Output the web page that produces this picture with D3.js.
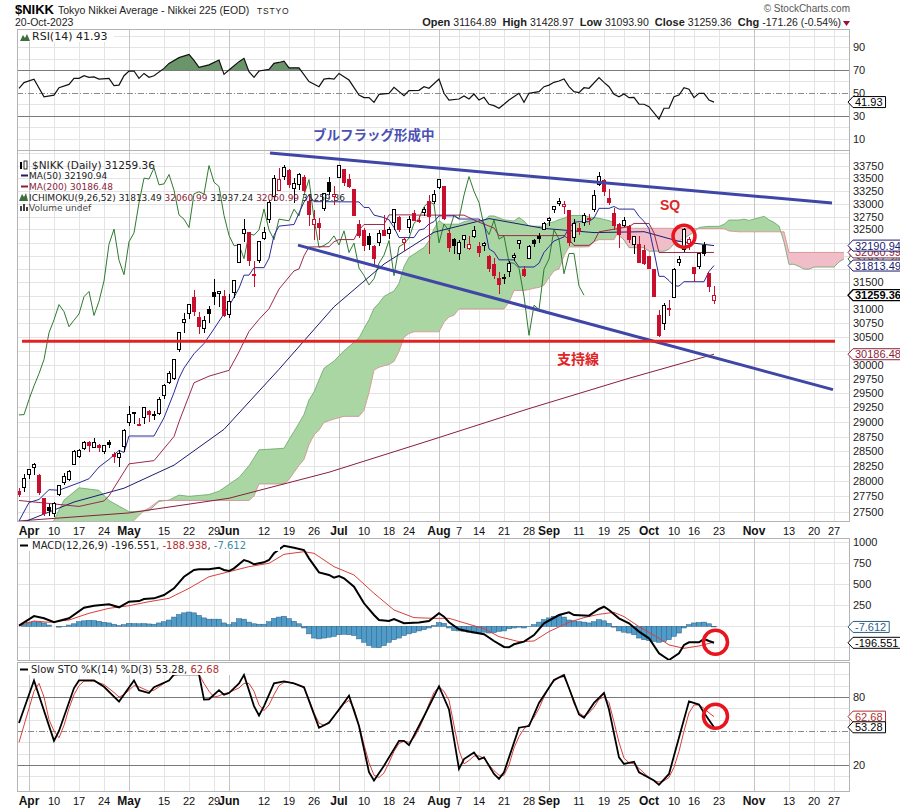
<!DOCTYPE html>
<html>
<head>
<meta charset="utf-8">
<title>$NIKK Daily</title>
<style>
  body { margin: 0; background: #fff; }
  text { font-family: Arial, 'Liberation Sans', sans-serif; fill: #222; }
  .leg { font-family: 'DejaVu Sans', Verdana, sans-serif; }
  .jp { font-family: 'Noto Sans CJK JP', sans-serif; font-weight: bold; }
</style>
</head>
<body>
<script src="https://cdn.jsdelivr.net/npm/d3@7"></script>
<script>

// trading-day index: 0 = 3 Apr 2023, first candle (30 Mar) is -2
var firstIdx = -2;
var prevClose = 27883;

var opens = [27827,27899,
  28115,28234,28102,27719,27572,27465,27781,27972,28033,28285,28417,28547,28648,28560,28594,28491,28650,28452,28403,28589,
  28989,29146,28939,29070,29178,29103,29154,29459,29693,29748,30279,30763,30915,31210,30858,30648,30996,31303,31290,31241,
  30899,31302,31864,32427,32443,31651,31910,32325,32683,33140,33265,33531,33658,33301,33368,33524,33040,32604,32624,32909,33420,33137,
  33517,33668,33472,33286,32599,32480,32370,32182,32252,32488,32419,32640,32728,32258,32533,32805,32670,32819,33041,33043,
  33311,33329,32427,32308,32050,32314,32144,32372,32169,32188,31986,31836,31579,31598,31708,31964,32227,31748,31947,32284,32361,32491,
  32667,32885,32999,32935,32859,32337,32510,32630,32688,32878,33377,33457,33097,32817,32603,32584,32555,32214,32209,32099,
  31981,31735,30892,30747,31017,31212,31877,32117,32231,31770,31794,32201,31663,31164.89];
var highs = [27895,28124,
  28203,28296,28124,27731,27626,27661,27932,28134,28195,28515,28540,28675,28673,28720,28620,28613,28695,28493,28523,28879,
  29278,29171,29069,29263,29199,29187,29426,29660,29895,30093,30594,30924,31086,31352,30942,30871,31058,31560,31328,31352,
  31281,31526,32217,32708,32444,31900,32265,32546,33062,33571,33708,33772,33680,33505,33603,33560,33178,32877,32714,33207,33527,33356,
  33762,33668,33578,33286,32687,32532,32440,32202,32481,32780,32541,32896,32757,32362,32757,32869,32753,32944,33172,33264,
  33488,33336,32497,32343,32299,32395,32384,32567,32253,32266,32004,31957,31698,31653,31897,32048,32297,31798,32193,32326,32439,32648,
  32745,32960,33116,33045,32875,32693,32631,32810,32802,33260,33634,33486,33281,32919,32631,32735,32577,32381,32370,32202,
  32000,31739,30980,31115,31167,31760,31987,32533,32363,31794,32046,32260,31681,31428.97];
var lows = [27736,27827,
  28038,28112,27766,27427,27425,27409,27753,27944,28010,28285,28390,28528,28489,28552,28487,28461,28556,28311,28241,28485,
  28935,28965,28925,28957,29005,29037,29118,29403,29652,29726,30220,30571,30825,30882,30558,30568,30758,31083,31045,30852,
  30839,31203,31863,32265,31814,31420,31859,32290,32621,33056,33257,33470,33306,33012,33275,33227,32575,32306,32305,32860,33172,32971,
  33517,33353,33298,32773,32327,32089,32099,31791,32192,32391,32318,32483,32453,32080,32436,32664,32619,32760,32037,32996,
  33292,32684,32071,32040,31914,32146,32115,32342,31971,32092,31687,31569,31275,31476,31601,31891,32129,31598,31943,32160,32240,32481,
  32561,32826,32963,32794,32184,32255,32393,32562,32585,32832,33341,33157,32980,32497,32154,32552,32246,32038,31872,31828,
  31753,31236,30487,30621,30870,31200,31806,32061,32116,31512,31750,31995,31312,31093.90];
var closes = [27782,28041,
  28188,28287,27813,27472,27518,27633,27923,28082,28156,28493,28514,28658,28606,28657,28564,28593,28620,28416,28457,28856,
  29123,29157,28949,29242,29122,29126,29388,29626,29842,30093,30573,30808,31086,30957,30682,30801,30916,31233,31328,30887,
  31148,31524,32217,32506,31913,31641,32265,32434,33018,33502,33485,33706,33370,33388,33575,33265,32781,32698,32538,33193,33234,33189,
  33753,33422,33338,32773,32388,32189,32203,31943,32419,32391,32493,32896,32490,32304,32700,32682,32668,32891,32759,33172,
  33476,32707,32159,32193,32254,32377,32204,32473,32059,32238,31766,31626,31450,31566,31856,32010,32287,31624,32169,32227,32333,32619,
  32710,32939,33036,32991,32241,32606,32467,32776,32707,33168,33533,33242,33023,32571,32402,32678,32315,32371,31872,31857,
  31759,31237,30526,31075,30994,31746,31936,32494,32315,31659,32040,32042,31430,31259.36];

// overlays, [index, value]
var ma50 = [[-2,27300],[9,27658],[19,27885],[29,28268],[39,28874],[50,29918],[61,31046],[71,31841],[81,32447],[92,32710],[103,32520],[113,32440],[123,32457],[130,32272],[137,32190.94]];
var ma200 = [[-2,27350],[20,27480],[40,27720],[60,28150],[80,28680],[100,29230],[120,29760],[137,30186.48]];
var convLine = [[-2,27350],[0,27650],[2,27700],[4,27860],[6,27852],[10,27975],[12,28042],[14,28237],[16,28365],[18,28516],[19,28481],[20,28760],[25,28760],[27,29073],[29,29509],[30,29760],[31,29941],[33,30195],[35,30378],[37,30643],[40,31059],[42,31388],[43,31633],[44,31633],[45,31774],[47,31774],[48,31951],[49,32387],[50,32564],[53,32596],[54,32816],[55,33031],[56,33174],[57,33039],[66,33034],[67,32926],[68,32926],[69,32777],[71,32730],[72,32685],[73,32539],[74,32344],[77,32344],[78,32488],[79,32512],[80,32605],[81,32651],[82,32763],[85,32763],[86,32701],[90,32701],[91,32625],[92,32127],[93,32068],[94,31921],[97,31921],[98,31786],[101,31786],[102,31857],[103,32062],[104,32171],[105,32279],[107,32357],[108,32530],[109,32638],[110,32650],[112,32650],[113,32722],[114,32909],[116,32909],[117,32945],[118,32894],[121,32894],[122,32753],[123,32657],[124,32517],[125,32078],[126,31611],[127,31611],[128,31532],[129,31434],[130,31429],[131,31510],[135,31510],[136,31702],[137,31813.49]];
var baseLine = [[-2,27683],[10,27586],[15,27676],[16,27760],[20,28290],[25,28344],[29,28751],[30,29002],[33,29681],[36,29797],[40,29900],[42,30229],[44,30597],[46,30817],[48,31010],[50,31373],[53,31712],[54,31749],[55,31996],[56,32165],[60,32170],[61,32265],[62,32306],[65,32306],[66,32488],[67,32596],[71,32596],[72,32782],[76,32782],[77,32777],[87,32777],[88,32730],[89,32685],[90,32640],[93,32529],[94,32382],[107,32382],[108,32306],[109,32196],[112,32196],[113,32268],[114,32455],[120,32555],[121,32616],[124,32616],[125,32435],[126,32060],[137,32060.99]];
// leading spans, plotted 26 days ahead
var spanIdx = [-2,4,7,10,14,16,20,23,24,26,28,30,32,36,38,40,42,44,45,46,51,52,53,54,55,56,57,58,59,61,63,66,67,68,69,70,71,72,73,74,75,76,77,79,80,81,82,83,84,85,86,87,88,91,92,93,95,96,97,98,99,100,101,102,103,104,105,106,107,108,111,112,113,114,115,116,117,118,119,120,123,124,127,128,129,130,131,133,134,136,138,139,140,142,143,144,146,147,148,149,150,151,152,153,154,155,156,157,161,162,163];
var spanA = [27150,27200,27690,27892,27850,27683,27500,27510,27517,27667,27690,27772,27751,27781,27836,27949,28063,28258,28390,28525,28552,28700,28837,28980,29130,29381,29520,29730,29938,30064,30247,30480,30650,30809,31017,31115,31237,31290,31337,31481,31794,31969,32030,32154,32283,32514,32670,32602,32602,32602,32603,32650,32670,32670,32761,32761,32687,32675,32663,32734,32661,32563,32563,32562,32561,32633,32645,32691,32714,32770,32770,32739,32730,32716,32693,32671,32632,32384,32298,32151,32151,32084,32084,32120,32222,32276,32330,32450,32540,32560,32560,32600,32682,32682,32700,32675,32725,32755,32685,32637,32567,32257,31836,31836,31796,31747,31745,31785,31785,31881,31937.24];
var spanB = [26880,27050,27120,27197,27210,27217,27280,27517,27560,27683,27683,27683,27683,27683,27683,27683,27683,27683,27756,27955,27955,28029,28146,28264,28363,28613,28778,28859,28992,29050,29096,29096,29200,29508,29904,29954,29980,30004,30058,30235,30490,30558,30590,30590,30590,30590,30590,30762,30858,30891,31006,31006,31006,31006,31006,31006,31006,31128,31348,31348,31348,31364,31388,31404,31445,31587,31712,31749,31996,32165,32165,32170,32265,32305,32305,32305,32305,32487,32596,32523,32523,32523,32523,32523,32518,32518,32518,32518,32518,32518,32518,32518,32471,32455,32455,32455,32455,32455,32455,32455,32455,32455,32060,32060,32060,32060,32060,32060,32060,32060,32060.99];

var rsi = [[-2,54],[-1,59],[1,62],[3,46.6],[5,48],[6,54.5],[8,57.4],[9,62.7],[10,62.7],[11,65],[12,63.6],[13,64],[14,62],[16,62.7],[17,56.3],[18,56.8],[19,65],[20,69.1],[21,69.1],[22,62.7],[23,67],[24,63.6],[25,65],[27,71.4],[28,75.8],[30,80.8],[32,83.7],[33,78.5],[34,72.4],[36,74.5],[38,78.7],[39,66.2],[40,70],[42,77.3],[43,80.2],[44,68.5],[45,63.6],[46,69.1],[48,70.5],[49,75.8],[50,76.6],[51,77.7],[52,71.9],[54,71.9],[56,59.8],[58,55.4],[59,62],[60,62.7],[61,62],[62,67],[64,61.2],[66,48.1],[67,45.8],[68,45.8],[69,41.7],[70,48.7],[72,49.6],[73,54.8],[75,47.5],[76,51.9],[78,52.2],[79,55.4],[80,54],[82,62.1],[83,49.6],[84,43.7],[86,44.6],[87,47.2],[88,44.6],[89,49],[90,43.7],[91,46.1],[92,40],[93,38.8],[94,36.5],[95,40],[96,43.7],[98,49.6],[99,41.7],[100,49.6],[102,51.1],[103,55.4],[104,56.8],[105,59.2],[106,60.4],[107,62.2],[108,55.4],[109,51.1],[110,50.2],[111,54.5],[112,54],[114,63.3],[115,59.2],[116,55.4],[117,48.7],[118,46.6],[119,49],[120,45.8],[121,46.1],[122,40.2],[123,40],[124,37.9],[126,27.1],[127,36.5],[128,36.5],[129,46.6],[130,48.1],[131,54.5],[132,53.2],[133,45.8],[134,49.6],[135,49.6],[136,43.7],[137,41.93]];

var macd = [[-2,7],[1,122],[3,95],[5,48],[8,95],[11,221],[13,245],[16,262],[18,226],[20,293],[22,300],[23,325],[25,333],[27,372],[29,452],[31,590],[33,670],[34,678],[36,678],[38,698],[39,670],[40,658],[41,690],[43,789],[44,770],[45,738],[47,762],[48,789],[49,869],[51,959],[53,935],[55,908],[56,809],[58,642],[60,611],[61,579],[62,599],[63,571],[65,471],[67,274],[69,135],[70,75],[72,63],[73,87],[75,36],[78,44],[80,63],[82,155],[83,115],[84,48],[86,-36],[88,-63],[91,-95],[93,-175],[95,-246],[96,-250],[97,-214],[99,-183],[101,-104],[103,36],[106,134],[108,166],[109,134],[112,127],[114,206],[115,233],[116,194],[118,95],[120,36],[122,-63],[124,-143],[126,-321],[128,-401],[130,-321],[131,-222],[132,-190],[134,-190],[135,-151],[136,-175],[137,-196.551]];
var signal = [[-2,7],[1,63],[4,48],[8,75],[12,155],[16,214],[20,245],[24,293],[28,333],[32,452],[36,590],[40,650],[44,710],[48,750],[51,857],[55,888],[57,869],[61,710],[65,611],[69,393],[73,194],[77,103],[81,95],[84,95],[88,24],[91,-28],[94,-123],[98,-183],[101,-175],[104,-63],[108,48],[111,103],[114,143],[117,166],[119,115],[122,-4],[126,-143],[128,-222],[131,-262],[134,-234],[137,-188.938]];
var hist = [0,20,45,55,50,40,15,0,-10,-5,15,30,55,65,70,68,60,48,40,25,10,20,35,32,30,32,28,25,40,55,75,110,140,160,170,160,130,100,85,85,85,40,20,45,90,85,50,30,25,25,55,95,110,120,90,60,30,-20,-90,-140,-150,-140,-130,-120,-100,-95,-100,-110,-150,-190,-230,-250,-255,-230,-190,-160,-140,-110,-90,-75,-55,-40,-20,10,45,35,-20,-50,-55,-60,-70,-80,-80,-70,-80,-75,-60,-55,-30,-20,-10,-20,-5,20,50,80,100,120,130,110,75,65,55,50,40,55,80,65,35,-10,-55,-70,-80,-100,-140,-160,-170,-180,-190,-180,-160,-120,-80,-20,20,40,45,50,30,-7.612];

var stoK = [[-2,57],[1,94.6],[5,41.3],[6,50],[9,87.9],[10,94.6],[13,94.6],[15,89],[18,76],[21,94.6],[22,86],[24,83.5],[25,88.7],[28,94.6],[29,100],[34,100],[35,77.7],[36,78],[38,86],[39,82],[40,83.5],[42,92],[43,99.5],[45,72],[46,63.7],[47,72],[49,92],[51,93.7],[53,92],[55,88.7],[58,52.9],[60,57.3],[62,69],[64,81.2],[66,54.4],[68,13.6],[69,6.3],[71,19.4],[74,41.3],[75,41.3],[76,37.5],[79,63],[82,89.3],[84,69],[86,16.5],[87,25.2],[89,31],[90,25],[91,26.7],[93,12.1],[94,7.8],[95,13.6],[98,52.9],[100,54.4],[102,74.8],[105,95],[107,99.5],[110,64.6],[111,61.7],[113,74.8],[115,83.5],[116,69],[118,26.7],[119,20.9],[121,22.9],[122,13.6],[125,6.3],[126,2.5],[128,12.1],[130,44.2],[132,76.2],[134,73.3],[135,66],[137,53.28]];
var stoD = [[-2,40],[0,70],[1,85],[2,92],[3,80],[4,60],[5,50],[6,44],[7,55],[8,70],[9,82],[10,90],[11,94],[13,94],[15,91],[17,84],[18,80],[19,82],[20,86],[21,90],[22,89],[23,87],[24,85],[25,86],[26,89],[27,92],[28,95],[29,99],[30,100],[34,100],[35,92],[36,85],[37,80],[38,81],[39,83],[40,84],[41,86],[42,88],[43,92],[44,92],[45,85],[46,73],[47,68],[48,73],[49,82],[50,90],[51,93],[52,93],[53,92],[54,90],[55,88],[56,78],[57,66],[58,57],[59,55],[60,58],[61,63],[62,68],[63,74],[64,77],[65,70],[66,55],[67,38],[68,22],[69,11],[70,9],[71,13],[72,22],[73,32],[74,39],[75,41],[76,40],[77,44],[78,52],[79,62],[80,74],[81,84],[82,89],[83,85],[84,77],[85,55],[86,33],[87,21],[88,24],[89,28],[90,28],[91,26],[92,20],[93,15],[94,11],[95,11],[96,20],[97,35],[98,45],[99,52],[100,56],[101,62],[102,70],[103,80],[104,88],[105,94],[106,97],[107,98],[108,88],[109,74],[110,66],[111,63],[112,66],[113,71],[114,78],[115,80],[116,75],[117,58],[118,40],[119,26],[120,22],[121,21],[122,17],[123,13],[124,9],[125,6],[126,5],[127,6],[128,9],[129,18],[130,32],[131,50],[132,66],[133,73],[134,73],[135,70],[136,66],[137,62.68]];

// x axis
var tickIdx = [0,5,10,15,20,27,32,37,40,47,52,57,62,67,72,76,82,86,90,95,100,104,110,115,119,124,129,133,138,145,152,157,161];
var tickText = ['Apr','10','17','24','May','15','22','29','Jun','12','19','26','Jul','10','18','24','Aug','7','14','21','28','Sep','11','19','25','Oct','10','16','23','Nov','13','20','27'];
var monthText = ['Apr','May','Jun','Jul','Aug','Sep','Oct','Nov'];

// hand-drawn annotations, in data coordinates
var upperTrend = [[48.2,34004],[160.6,33012]];
var lowerTrend = [[53.8,32200],[160.8,29560]];
var supportLine = [[-1.4,30420],[161.2,30420]];

var width = 900, height = 811;
var left = 17, right = 850;
var red = '#c8102e';

var svg = d3.select('body').append('svg')
  .attr('width', width)
  .attr('height', height);

var x = d3.scaleLinear().domain([-2.4, 164.2]).range([left, right]);

var panels = {
  rsi: {top: 29, bottom: 150},
  main: {top: 150, bottom: 521},
  macd: {top: 538, bottom: 660},
  sto: {top: 662, bottom: 791}
};

var yRsi = d3.scaleLinear().domain([30, 70]).range([115.7, 70]);
var yPrice = d3.scaleLog().domain([27500, 33750]).range([511.7, 165.7]);
var yMacd = d3.scaleLinear().domain([-250, 1000]).range([647.3, 542.3]);
var ySto = d3.scaleLinear().domain([20, 80]).range([765, 697]);

var defs = svg.append('defs');
Object.keys(panels).forEach(function (k) {
  var p = panels[k];
  defs.append('clipPath').attr('id', 'clip-' + k).append('rect')
    .attr('x', left).attr('y', p.top).attr('width', right - left).attr('height', p.bottom - p.top);
});

function panelGrid (p, yScale, yTicks) {
  var g = svg.append('g');
  g.selectAll('line.h').data(yTicks).enter().append('line')
    .attr('x1', left).attr('x2', right)
    .attr('y1', function (d) { return Math.round(yScale(d)) + 0.5; })
    .attr('y2', function (d) { return Math.round(yScale(d)) + 0.5; })
    .attr('stroke', '#e4e4e4');
  g.selectAll('line.v').data(tickIdx).enter().append('line')
    .attr('x1', function (d) { return Math.round(x(d)) + 0.5; })
    .attr('x2', function (d) { return Math.round(x(d)) + 0.5; })
    .attr('y1', p.top).attr('y2', p.bottom)
    .attr('stroke', function (d, k) { return monthText.indexOf(tickText[k]) >= 0 ? '#c4c4c4' : '#e4e4e4'; });
  return g;
}

function border (p) {
  svg.append('rect').attr('x', left + 0.5).attr('y', p.top + 0.5)
    .attr('width', right - left - 1).attr('height', p.bottom - p.top)
    .attr('fill', 'none').attr('stroke', '#b4b4b4');
}

// axis labels that a value tag would cover are left out, as on the original
function rightLabels (scale, ticks, tagVals) {
  var shown = ticks.filter(function (t) {
    return !(tagVals || []).some(function (v) { return Math.abs(scale(t) - scale(v)) < 8; });
  });
  svg.append('g').selectAll('text').data(shown).enter().append('text')
    .attr('x', 853).attr('y', function (d) { return scale(d) + 4; })
    .style('font-size', '11px')
    .text(function (d) { return d; });
}

function levelLine (scale, v, dash) {
  svg.append('line').attr('x1', left).attr('x2', right)
    .attr('y1', Math.round(scale(v)) + 0.5).attr('y2', Math.round(scale(v)) + 0.5)
    .attr('stroke', dash ? '#8a8a8a' : '#7a7a7a')
    .attr('stroke-dasharray', dash ? '6,2,1,2' : null);
}

function tag (yv, text, color, bold) {
  var g = svg.append('g');
  var path = g.append('path');
  var t = g.append('text').attr('x', 855).attr('y', yv + 4)
    .style('font-size', '11px').style('font-weight', bold ? 'bold' : 'normal')
    .style('fill', color).text(text);
  var w = t.node().getComputedTextLength();
  path.attr('d', 'M848,' + yv + 'L853,' + (yv - 5.5) + 'H' + (858 + w) + 'V' + (yv + 5.5) + 'H853Z')
    .attr('fill', '#fff').attr('stroke', color).attr('stroke-width', bold ? 1.3 : 1);
}

function legendBox (p, w) {
  svg.append('rect').attr('x', left + 1).attr('y', p.top + 1).attr('width', w).attr('height', 12).attr('fill', '#fff');
}

// header
svg.append('text').attr('x', 15).attr('y', 14).style('font-size', '13px').style('font-weight', 'bold').style('fill', '#000').text('$NIKK');
svg.append('text').attr('x', 58).attr('y', 14).style('font-size', '10.5px').text('Tokyo Nikkei Average - Nikkei 225 (EOD)');
svg.append('text').attr('x', 257).attr('y', 14).style('font-size', '8.5px').style('letter-spacing', '0.8px').text('TSTYO');
svg.append('text').attr('x', 15).attr('y', 26).style('font-size', '10.5px').text('20-Oct-2023');
svg.append('text').attr('x', 850).attr('y', 12).attr('text-anchor', 'end').style('font-size', '10px').style('fill', '#555').text('\u00a9 StockCharts.com');
var ohlc = svg.append('text').attr('x', 841).attr('y', 26).attr('text-anchor', 'end').style('font-size', '10.5px');
[['Open ', '31164.89'], ['  High ', '31428.97'], ['  Low ', '31093.90'], ['  Close ', '31259.36'], ['  Chg ', '-171.26 (-0.54%)']].forEach(function (p) {
  ohlc.append('tspan').style('font-weight', 'bold').style('font-size', '11px').attr('xml:space', 'preserve').text(p[0]);
  ohlc.append('tspan').text(p[1]);
});
svg.append('path').attr('d', 'M843,21 L850,21 L846.5,26 Z').attr('fill', '#a01030');

// ---------- RSI panel ----------
panelGrid(panels.rsi, yRsi, [10, 20, 40, 60, 80, 90, 100]);
levelLine(yRsi, 70); levelLine(yRsi, 30); levelLine(yRsi, 50, true);
var gR = svg.append('g').attr('clip-path', 'url(#clip-rsi)');
defs.append('clipPath').attr('id', 'clip-ob').append('rect')
  .attr('x', left).attr('y', panels.rsi.top).attr('width', right - left).attr('height', yRsi(70) - panels.rsi.top);
gR.append('path').datum(rsi).attr('clip-path', 'url(#clip-ob)')
  .attr('d', d3.area().x(function (d) { return x(d[0]); }).y0(yRsi(70)).y1(function (d) { return yRsi(d[1]); }))
  .attr('fill', '#6a946a');
gR.append('path').datum(rsi)
  .attr('d', d3.line().x(function (d) { return x(d[0]); }).y(function (d) { return yRsi(d[1]); }))
  .attr('fill', 'none').attr('stroke', '#111').attr('stroke-width', 1.2);
border(panels.rsi);
rightLabels(yRsi, [90, 70, 50, 30, 10]);
legendBox(panels.rsi, 96);
svg.append('path').attr('d', 'M20,41 L23,35 L25,38 L27,34 L30,41 Z').attr('fill', '#3d6e3d');
svg.append('text').attr('class', 'leg').attr('x', 32).attr('y', 40).style('font-size', '11px').text('RSI(14) 41.93');
tag(yRsi(41.93), '41.93', '#000');

// ---------- main panel ----------
panelGrid(panels.main, yPrice, d3.range(27500, 34001, 250));
var gM = svg.append('g').attr('clip-path', 'url(#clip-main)');

var spans = spanIdx.map(function (v, k) { return {i: v, a: spanA[k], b: spanB[k]}; });
defs.append('clipPath').attr('id', 'clip-above-b').append('path')
  .attr('d', d3.area().x(function (d) { return x(d.i); }).y0(panels.main.top).y1(function (d) { return yPrice(d.b); })(spans));
defs.append('clipPath').attr('id', 'clip-below-b').append('path')
  .attr('d', d3.area().x(function (d) { return x(d.i); }).y0(panels.main.bottom).y1(function (d) { return yPrice(d.b); })(spans));
var cloud = d3.area().x(function (d) { return x(d.i); })
  .y0(function (d) { return yPrice(d.b); }).y1(function (d) { return yPrice(d.a); });
gM.append('path').datum(spans).attr('d', cloud).attr('fill', '#a9d6a2').attr('clip-path', 'url(#clip-above-b)');
gM.append('path').datum(spans).attr('d', cloud).attr('fill', '#f1bdc8').attr('clip-path', 'url(#clip-below-b)');
gM.append('path').datum(spans).attr('fill', 'none').attr('stroke', '#6aa66a').attr('stroke-width', 0.8)
  .attr('d', d3.line().x(function (d) { return x(d.i); }).y(function (d) { return yPrice(d.a); }));
gM.append('path').datum(spans).attr('fill', 'none').attr('stroke', '#d08a8a').attr('stroke-width', 0.8)
  .attr('d', d3.line().x(function (d) { return x(d.i); }).y(function (d) { return yPrice(d.b); }));

var priceLine = d3.line().x(function (d) { return x(d[0]); }).y(function (d) { return yPrice(d[1]); });
var lagging = closes.map(function (c, k) { return [k + firstIdx - 26, c]; }).filter(function (d) { return d[0] >= -2; });
gM.append('path').datum(lagging).attr('d', priceLine).attr('fill', 'none').attr('stroke', '#2f7a2f').attr('stroke-width', 1);
gM.append('path').datum(ma200).attr('d', priceLine).attr('fill', 'none').attr('stroke', '#8a1e3c').attr('stroke-width', 1);
gM.append('path').datum(ma50).attr('d', priceLine).attr('fill', 'none').attr('stroke', '#1c1c70').attr('stroke-width', 1);
gM.append('path').datum(baseLine).attr('d', priceLine).attr('fill', 'none').attr('stroke', '#9a2a4a').attr('stroke-width', 1);
gM.append('path').datum(convLine).attr('d', priceLine).attr('fill', 'none').attr('stroke', '#2a2a9a').attr('stroke-width', 1);

var days = closes.map(function (c, k) {
  return {i: k + firstIdx, o: opens[k], h: highs[k], l: lows[k], c: c, pc: k ? closes[k - 1] : prevClose};
});
function candleColor (d) { return d.c >= d.pc ? '#000' : red; }
var cg = gM.append('g').attr('shape-rendering', 'crispEdges');
cg.selectAll('line').data(days).enter().append('line')
  .attr('x1', function (d) { return x(d.i); }).attr('x2', function (d) { return x(d.i); })
  .attr('y1', function (d) { return yPrice(d.h); }).attr('y2', function (d) { return yPrice(d.l); })
  .attr('stroke', candleColor);
cg.selectAll('rect').data(days).enter().append('rect')
  .attr('x', function (d) { return x(d.i) - 1.5; }).attr('width', 3)
  .attr('y', function (d) { return yPrice(Math.max(d.o, d.c)); })
  .attr('height', function (d) { return Math.max(1, Math.abs(yPrice(d.o) - yPrice(d.c))); })
  .attr('fill', function (d) { return d.c > d.o ? '#fff' : candleColor(d); })
  .attr('stroke', candleColor);

border(panels.main);
var mainTags = [31937.24, 32060.99, 31813.49, 32190.94, 31259.36, 30186.48];
rightLabels(yPrice, d3.range(27500, 33751, 250), mainTags);

var leg = svg.append('g');
leg.append('text').attr('class', 'leg').attr('x', 32).attr('y', 169).style('font-size', '10.5px').text('$NIKK (Daily) 31259.36');
leg.append('rect').attr('x', 20).attr('y', 162).attr('width', 2).attr('height', 7).attr('fill', '#000');
leg.append('rect').attr('x', 24).attr('y', 161).attr('width', 3).attr('height', 8).attr('fill', '#fff').attr('stroke', '#000').attr('stroke-width', 0.8);
leg.append('line').attr('x1', 21).attr('x2', 28).attr('y1', 175.5).attr('y2', 175.5).attr('stroke', '#1c1c70').attr('stroke-width', 2);
leg.append('text').attr('class', 'leg').attr('x', 29).attr('y', 179).style('font-size', '9px').text('MA(50) 32190.94');
leg.append('line').attr('x1', 21).attr('x2', 28).attr('y1', 186.5).attr('y2', 186.5).attr('stroke', '#8a1e3c').attr('stroke-width', 2);
leg.append('text').attr('class', 'leg').attr('x', 29).attr('y', 190).style('font-size', '9px').style('fill', '#8a1e3c').text('MA(200) 30186.48');
leg.append('path').attr('d', 'M19,201 L22,194 L24,197 L26,193 L28,201 Z').attr('fill', '#3d6e3d');
var ich = leg.append('text').attr('class', 'leg').attr('x', 29).attr('y', 201).style('font-size', '9px');
[['ICHIMOKU(9,26,52) ', '#222'], ['31813.49 ', '#222'], ['32060.99 ', '#8a1e3c'], ['31937.24 ', '#222'], ['32060.99 ', '#8a1e3c'], ['31259.36', '#222']].forEach(function (p) {
  ich.append('tspan').style('fill', p[1]).attr('xml:space', 'preserve').text(p[0]);
});
leg.append('path').attr('d', 'M20,211 V206 H22 V211 M23,211 V204 H25 V211 M26,211 V207 H28 V211').attr('fill', '#444');
leg.append('text').attr('class', 'leg').attr('x', 29).attr('y', 211).style('font-size', '9px').style('fill', '#444').text('Volume undef');

tag(yPrice(31937.24), '31937.24', '#2f7a2f');
tag(yPrice(32060.99), '32060.99', '#8a1e3c');
tag(yPrice(31813.49), '31813.49', '#1c1c70');
tag(yPrice(32190.94), '32190.94', '#1c1c70');
tag(yPrice(31259.36), '31259.36', '#000', true);
tag(yPrice(30186.48), '30186.48', '#8a1e3c');

// x axis between main and MACD, and under the last panel
function xLabels (yBase) {
  svg.append('g').selectAll('text').data(tickIdx).enter().append('text')
    .attr('x', function (d) { return x(d); }).attr('y', yBase)
    .attr('text-anchor', 'middle')
    .style('font-size', function (d, k) { return monthText.indexOf(tickText[k]) >= 0 ? '12px' : '11px'; })
    .style('font-weight', function (d, k) { return monthText.indexOf(tickText[k]) >= 0 ? 'bold' : 'normal'; })
    .style('fill', '#111')
    .text(function (d, k) { return tickText[k]; });
}
xLabels(535);

// ---------- MACD panel ----------
panelGrid(panels.macd, yMacd, [-250, 0, 250, 500, 750, 1000]);
var gD = svg.append('g').attr('clip-path', 'url(#clip-macd)');
gD.selectAll('rect').data(hist).enter().append('rect')
  .attr('x', function (d, k) { return x(k + firstIdx) - 2.5; }).attr('width', 5)
  .attr('y', function (d) { return Math.min(yMacd(d), yMacd(0)); })
  .attr('height', function (d) { return Math.abs(yMacd(d) - yMacd(0)); })
  .attr('fill', '#4f9ccb').attr('stroke', '#2d5f80').attr('stroke-width', 0.5);
var macdLine = d3.line().x(function (d) { return x(d[0]); }).y(function (d) { return yMacd(d[1]); });
gD.append('path').datum(signal).attr('d', macdLine).attr('fill', 'none').attr('stroke', '#d8403a').attr('stroke-width', 1);
gD.append('path').datum(macd).attr('d', macdLine).attr('fill', 'none').attr('stroke', '#000').attr('stroke-width', 2);
border(panels.macd);
rightLabels(yMacd, [1000, 750, 500, 250, 0], [-7.612]);
legendBox(panels.macd, 262);
svg.append('line').attr('x1', 20).attr('x2', 28).attr('y1', 545.5).attr('y2', 545.5).attr('stroke', '#000').attr('stroke-width', 2);
var ml = svg.append('text').attr('class', 'leg').attr('x', 32).attr('y', 549).style('font-size', '10px');
[['MACD(12,26,9) -196.551, ', '#222'], ['-188.938', '#b03030'], [', ', '#222'], ['-7.612', '#3a8aa8']].forEach(function (p) {
  ml.append('tspan').style('fill', p[1]).attr('xml:space', 'preserve').text(p[0]);
});
tag(yMacd(-7.612), '-7.612', '#2d5f80');
tag(yMacd(-196.551), '-196.551', '#000');

// ---------- Slow stochastics panel ----------
panelGrid(panels.sto, ySto, [10, 30, 40, 60, 70, 90, 100]);
levelLine(ySto, 80); levelLine(ySto, 20); levelLine(ySto, 50, true);
var gS = svg.append('g').attr('clip-path', 'url(#clip-sto)');
var stoLine = d3.line().x(function (d) { return x(d[0]); }).y(function (d) { return ySto(d[1]); });
gS.append('path').datum(stoD).attr('d', stoLine).attr('fill', 'none').attr('stroke', '#d8403a').attr('stroke-width', 1);
gS.append('path').datum(stoK).attr('d', stoLine).attr('fill', 'none').attr('stroke', '#000').attr('stroke-width', 1.8);
border(panels.sto);
rightLabels(ySto, [80, 50, 20], [53.28, 62.68]);
legendBox(panels.sto, 224);
svg.append('line').attr('x1', 20).attr('x2', 28).attr('y1', 669.5).attr('y2', 669.5).attr('stroke', '#000').attr('stroke-width', 2);
var sl = svg.append('text').attr('class', 'leg').attr('x', 31).attr('y', 673).style('font-size', '10px');
[['Slow STO %K(14) %D(3) 53.28, ', '#222'], ['62.68', '#b03030']].forEach(function (p) {
  sl.append('tspan').style('fill', p[1]).attr('xml:space', 'preserve').text(p[0]);
});
tag(ySto(62.68), '62.68', '#b03030');
tag(ySto(53.28), '53.28', '#000');
xLabels(805);

// ---------- annotations ----------
var ann = svg.append('g');
ann.append('path').datum(upperTrend).attr('d', priceLine).attr('stroke', '#3f46a6').attr('stroke-width', 3).attr('fill', 'none');
ann.append('path').datum(lowerTrend).attr('d', priceLine).attr('stroke', '#3f46a6').attr('stroke-width', 3).attr('fill', 'none');
ann.append('path').datum(supportLine).attr('d', priceLine).attr('stroke', '#e02424').attr('stroke-width', 3).attr('fill', 'none');
ann.append('text').attr('class', 'jp').attr('x', x(56.8)).attr('y', 140).style('font-size', '13.5px').style('fill', '#4a50b4').text('ブルフラッグ形成中');
ann.append('text').attr('x', x(126.2)).attr('y', yPrice(32877)).style('font-size', '14px').style('font-weight', 'bold').style('fill', '#e02424').text('SQ');
ann.append('text').attr('class', 'jp').attr('x', x(105.6)).attr('y', yPrice(30017)).style('font-size', '14px').style('fill', '#e02424').text('支持線');
ann.append('circle').attr('cx', x(131)).attr('cy', yPrice(32370)).attr('r', 11).attr('fill', 'none').attr('stroke', '#e8141e').attr('stroke-width', 3.5);
ann.append('circle').attr('cx', x(137.3)).attr('cy', yMacd(-190)).attr('r', 12).attr('fill', 'none').attr('stroke', '#e8141e').attr('stroke-width', 3.5);
ann.append('circle').attr('cx', x(137.3)).attr('cy', ySto(63)).attr('r', 12).attr('fill', 'none').attr('stroke', '#e8141e').attr('stroke-width', 3.5);

</script>
</body>
</html>
